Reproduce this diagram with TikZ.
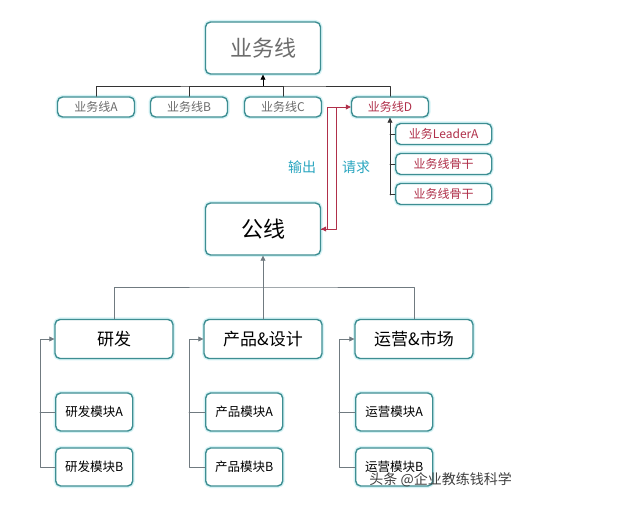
\documentclass[tikz,border=0pt]{standalone}
\usepackage{fontspec}
\setmainfont{Noto Sans CJK SC}
\usetikzlibrary{arrows.meta,positioning}
\definecolor{boxline}{HTML}{3E8E92}
\definecolor{halo}{HTML}{D6F3F6}
\definecolor{linkgray}{HTML}{707A80}
\definecolor{reqred}{HTML}{B0304A}
\definecolor{labteal}{HTML}{2AA6C0}
\begin{document}
\begin{tikzpicture}[x=1pt,y=-1pt,line cap=round,line join=round,>={Triangle[length=5pt,width=5pt]},
	every node/.style={inner sep=0pt},
	box/.style={draw=boxline,line width=1.4pt,rounded corners=5pt,fill=white,
		preaction={draw=halo,line width=4pt}},
	link/.style={draw=linkgray,line width=0.7pt},
	redlink/.style={draw=reqred,line width=0.8pt}]

\useasboundingbox (0,0) rectangle (624,510);
\fill[white] (0,0) rectangle (624,510);

% business line
\node[box,minimum width=115pt,minimum height=52pt,font=\fontsize{22}{24}\selectfont,text=gray!85!black] (biz) at (263,48) {业务线};
\foreach \nm/\x/\t in {ba/96/业务线A,bb/189/业务线B,bc/283/业务线C}
	\node[box,minimum width=77pt,minimum height=20pt,font=\fontsize{12}{13}\selectfont,text=gray!85!black] (\nm) at (\x,107) {\t};
\node[box,minimum width=77pt,minimum height=20pt,font=\fontsize{12}{13}\selectfont,text=reqred] (bd) at (390,107) {业务线D};
\foreach \nm/\y/\t in {la/134/业务LeaderA,lb/164/业务线骨干,lc/194/业务线骨干}
	\node[box,minimum width=96pt,minimum height=21pt,font=\fontsize{12}{13}\selectfont,text=reqred,anchor=west] (\nm) at (395,\y) {\t};

\coordinate (bus) at (263,86);
\draw[->,draw=black,line width=0.7pt] (bus) -- (biz.south);
\draw[draw=black!80,line width=0.7pt] (ba.north) |- (bus) -| (bd.north);
\draw[draw=black!80,line width=0.7pt] (bb.north) |- (bus);
\draw[draw=black!80,line width=0.7pt] (bc.north) |- (bus);
\draw[->,draw=black!80,line width=0.7pt] (390,195) -- (bd.south);
\foreach \nm in {la,lb,lc}
	\draw[draw=black!80,line width=0.7pt] (\nm.west) -- (390,0 |- \nm.west);

% public line
\node[box,minimum width=115pt,minimum height=52pt,font=\fontsize{22}{24}\selectfont] (pub) at (263,229) {公线};
\draw[redlink,->] (pub.east) -- (336,229) -- (336,107) -- (bd.west);
\draw[redlink,->] (336,107) -- (327,107) -- (327,229) -- (pub.east);
\node[font=\fontsize{14}{15}\selectfont,text=labteal] (out) at (302,167) {输出};
\node[font=\fontsize{14}{15}\selectfont,text=labteal] (req) at (356,167) {请求};

% departments
\coordinate (bus2) at (263,287);
\foreach \nm/\x/\t in {rd/114/研发,pd/263/产品\&设计,op/414/运营\&市场}
	\node[box,minimum width=118pt,minimum height=39pt,font=\fontsize{17}{18}\selectfont] (\nm) at (\x,339) {\t};
\draw[link,->] (bus2) -- (pub.south);
\draw[link] (rd.north) |- (bus2) -| (op.north);
\draw[link] (pd.north) -- (bus2);

\foreach \nm/\x/\p/\t in {rd/55/40/研发,pd/205/189/产品,op/355/339/运营}{
	\node[box,minimum width=77pt,minimum height=38pt,font=\fontsize{12.5}{13}\selectfont,anchor=west] (\nm a) at (\x,412) {\t 模块A};
	\node[box,minimum width=77pt,minimum height=38pt,font=\fontsize{12.5}{13}\selectfont,anchor=west] (\nm b) at (\x,467) {\t 模块B};
	\draw[link,->] (\nm b.west) -- (\p,467) -- (\p,339) -- (\nm.west);
	\draw[link] (\nm a.west) -- (\p,412);
}

\node[font=\fontsize{14}{15}\selectfont,text=black!75,anchor=east] (mark) at (512,480) {头条 @企业教练钱科学};
\end{tikzpicture}
\end{document}
